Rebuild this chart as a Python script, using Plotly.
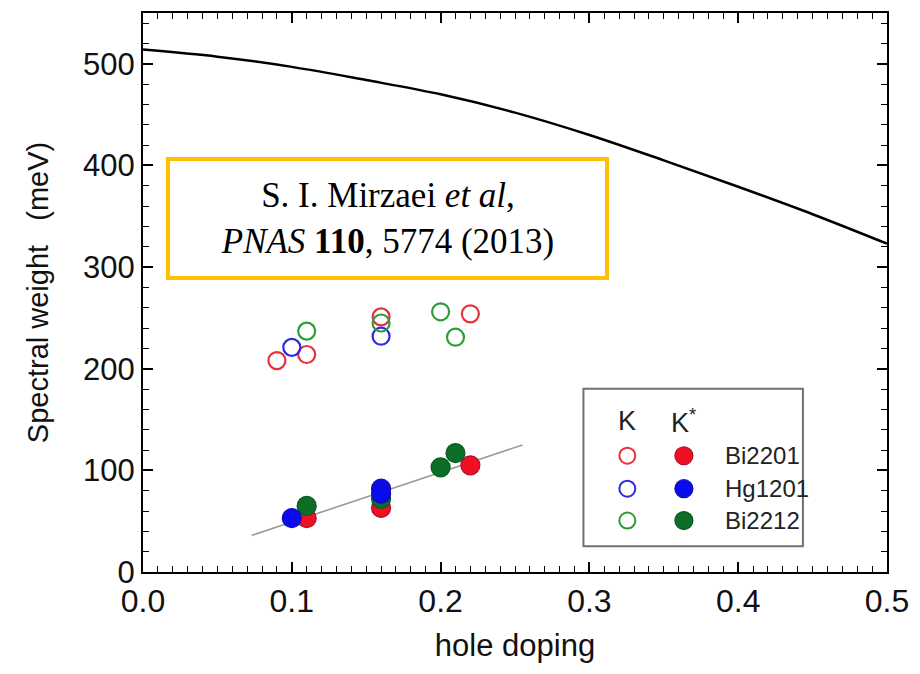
import plotly.graph_objects as go

# Model curve (upper bound) read along hole doping
curve_x = [0.0, 0.05, 0.10, 0.15, 0.20, 0.25, 0.30, 0.35, 0.40, 0.45, 0.50]
curve_y = [514, 507, 497, 484, 470, 452, 430, 405, 379, 352, 323]

# Linear guide through the K* points
fit_x = [0.073, 0.255]
fit_y = [36, 125]

# K (open symbols)
k_bi2201_x = [0.09, 0.11, 0.16, 0.22]
k_bi2201_y = [208, 214, 251, 254]
k_hg1201_x = [0.10, 0.16]
k_hg1201_y = [221, 232]
k_bi2212_x = [0.11, 0.16, 0.20, 0.21]
k_bi2212_y = [237, 245, 256, 231]

# K* (filled symbols)
ks_bi2201_x = [0.11, 0.16, 0.22]
ks_bi2201_y = [53, 63, 105]
ks_hg1201_x = [0.10, 0.16, 0.16]
ks_hg1201_y = [53, 82, 77]
ks_bi2212_x = [0.11, 0.16, 0.20, 0.21]
ks_bi2212_y = [65, 72, 103, 117]

compounds = ["Bi2201", "Hg1201", "Bi2212"]
line_colors = ["#e8303e", "#2a2ae8", "#2e9a3a"]
fill_colors = ["#ee1024", "#0a0aee", "#0c6e28"]
edge_colors = ["#b0102a", "#1010b0", "#0a5a20"]

x_ticks = [0.0, 0.1, 0.2, 0.3, 0.4, 0.5]
x_tick_text = ["0.0", "0.1", "0.2", "0.3", "0.4", "0.5"]
y_ticks = [0, 100, 200, 300, 400, 500]

SANS = "Liberation Sans, Arial, sans-serif"
SERIF = "Liberation Serif, Times New Roman, serif"

fig = go.Figure()

fig.add_trace(go.Scatter(x=curve_x, y=curve_y, mode="lines",
                         line=dict(color="black", width=2.5, shape="spline", smoothing=1.0),
                         showlegend=False))
fig.add_trace(go.Scatter(x=fit_x, y=fit_y, mode="lines",
                         line=dict(color="#9a9a9a", width=1.6),
                         showlegend=False))

open_sets = [(k_bi2201_x, k_bi2201_y), (k_hg1201_x, k_hg1201_y), (k_bi2212_x, k_bi2212_y)]
for (xs, ys), c in zip(open_sets, line_colors):
    fig.add_trace(go.Scatter(x=xs, y=ys, mode="markers",
                             marker=dict(symbol="circle-open", size=17,
                                         color=c, line=dict(width=2.2, color=c)),
                             showlegend=False))

filled_sets = [(ks_bi2201_x, ks_bi2201_y), (ks_bi2212_x, ks_bi2212_y), (ks_hg1201_x, ks_hg1201_y)]
filled_idx = [0, 2, 1]
for (xs, ys), i in zip(filled_sets, filled_idx):
    fig.add_trace(go.Scatter(x=xs, y=ys, mode="markers",
                             marker=dict(symbol="circle", size=19, color=fill_colors[i],
                                         line=dict(width=1.2, color=edge_colors[i])),
                             showlegend=False))

# Hand-built two-column legend on an overlay axis spanning the plot area
lg_x0, lg_x1, lg_y0, lg_y1 = 0.592, 0.887, 0.046, 0.328
col_open, col_fill, col_text = 0.651, 0.727, 0.780
row_head = 0.270
row_ys = [0.208, 0.149, 0.092]

for i, name in enumerate(compounds):
    fig.add_trace(go.Scatter(x=[col_open], y=[row_ys[i]], mode="markers",
                             xaxis="x2", yaxis="y2",
                             marker=dict(symbol="circle-open", size=16, color=line_colors[i],
                                         line=dict(width=2, color=line_colors[i])),
                             showlegend=False))
    fig.add_trace(go.Scatter(x=[col_fill], y=[row_ys[i]], mode="markers",
                             xaxis="x2", yaxis="y2",
                             marker=dict(symbol="circle", size=18, color=fill_colors[i],
                                         line=dict(width=1.2, color=edge_colors[i])),
                             showlegend=False))
    fig.add_annotation(x=col_text, y=row_ys[i], xref="x2", yref="y2", text=name,
                       showarrow=False, xanchor="left", yanchor="middle",
                       font=dict(family=SANS, size=24, color="#222"))

fig.add_annotation(x=col_open, y=row_head, xref="x2", yref="y2", text="K",
                   showarrow=False, font=dict(family=SANS, size=27, color="#222"))
fig.add_annotation(x=col_fill, y=row_head, xref="x2", yref="y2", text="K<sup>*</sup>",
                   showarrow=False, font=dict(family=SANS, size=27, color="#222"))

fig.add_shape(type="rect", xref="paper", yref="paper",
              x0=lg_x0, x1=lg_x1, y0=lg_y0, y1=lg_y1,
              line=dict(color="#707070", width=2), fillcolor="rgba(0,0,0,0)", layer="below")

# Citation box
fig.add_annotation(x=0.329, y=0.632, xref="paper", yref="paper",
                   xanchor="center", yanchor="middle",
                   text="S. I. Mirzaei <i>et al</i>,<br><i>PNAS</i> <b>110</b>, 5774 (2013)",
                   showarrow=False, align="center",
                   font=dict(family=SERIF, size=35, color="black"),
                   bgcolor="white", bordercolor="#FFC000", borderwidth=4,
                   borderpad=1, width=433, height=113)

axis_common = dict(showline=True, linecolor="black", linewidth=2, mirror="allticks",
                   ticks="inside", tickcolor="black", tickwidth=1.5, ticklen=10,
                   showgrid=False, zeroline=False)

fig.update_layout(
    width=920, height=674,
    margin=dict(l=143, r=27, t=11, b=102),
    paper_bgcolor="white", plot_bgcolor="white",
    xaxis=dict(range=[0, 0.5], tickvals=x_ticks, ticktext=x_tick_text,
               minor=dict(dtick=0.01, ticks="inside", ticklen=6, tickcolor="black", tickwidth=1.2),
               tickfont=dict(family=SANS, size=32, color="#111"),
               title=dict(text="hole doping", font=dict(family=SANS, size=31, color="#111"),
                          standoff=16),
               **axis_common),
    yaxis=dict(range=[0, 550], tickvals=y_ticks,
               minor=dict(dtick=20, ticks="inside", ticklen=6, tickcolor="black", tickwidth=1.2),
               tickfont=dict(family=SANS, size=31, color="#111"),
               title=dict(text="Spectral weight   (meV)", font=dict(family=SANS, size=29, color="#111"),
                          standoff=26),
               **axis_common),
    xaxis2=dict(range=[0, 1], overlaying="x", visible=False, fixedrange=True),
    yaxis2=dict(range=[0, 1], overlaying="y", visible=False, fixedrange=True),
)

fig.write_html("out.html")
